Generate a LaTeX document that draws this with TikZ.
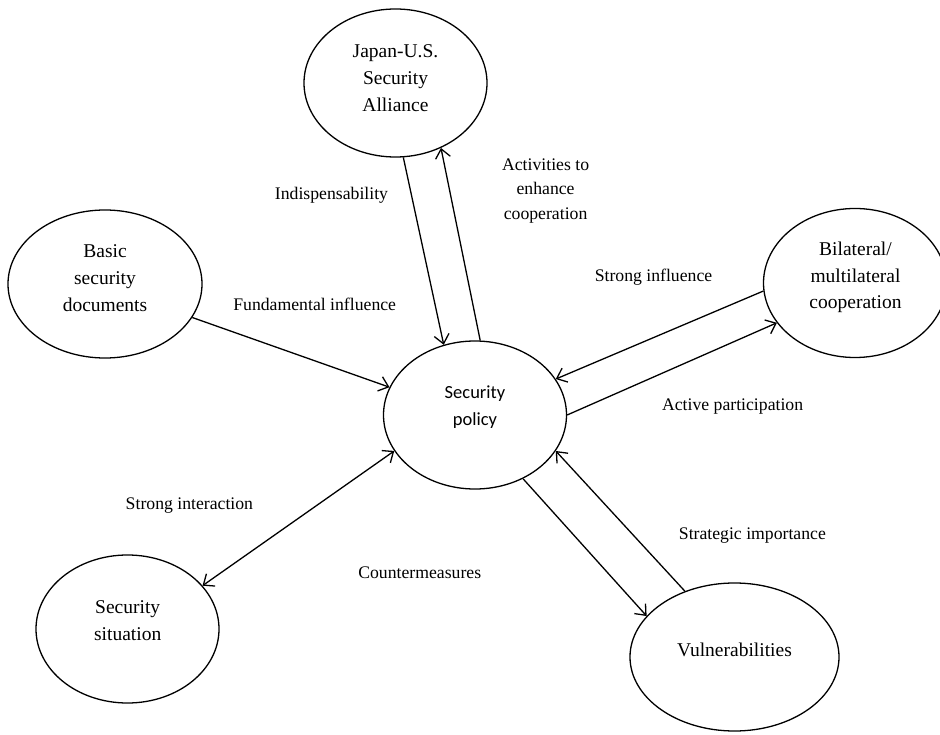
\documentclass[tikz,border=0pt]{standalone}
\usepackage{fontspec}
\setmainfont{Liberation Serif}
\newfontfamily\calfont{Carlito}
\usetikzlibrary{shapes.geometric,arrows.meta}
\begin{document}
\begin{tikzpicture}[x=1pt,y=-1pt,
  bub/.style={draw, ellipse, line width=1.3pt, minimum width=183pt, minimum height=148pt, inner sep=0pt},
  ntext/.style={align=center, inner sep=0pt, font=\fontsize{19.5}{26.7}\selectfont},
  lbl/.style={align=center, inner sep=0pt, font=\fontsize{17.7}{24.4}\selectfont},
  arr/.style={line width=1.3pt, -{Straight Barb[length=9pt,width=15pt,line width=1.3pt]}},
  darr/.style={line width=1.3pt, {Straight Barb[length=9pt,width=15pt,line width=1.3pt]}-{Straight Barb[length=9pt,width=15pt,line width=1.3pt]}}
  ]
\fill[white] (0,0) rectangle (940,735);
\useasboundingbox (0,0) rectangle (940,735);

% ellipses
\node[bub] (japan) at (395.5,83) {};
\node[bub, minimum width=194pt] (basic) at (105,284) {};
\node[bub, minimum height=149pt] (bilat) at (855,283) {};
\node[bub] (policy) at (475,415) {};
\node[bub] (situ) at (127.5,629) {};
\node[bub, minimum width=209pt] (vuln) at (734.5,657) {};

% node texts
\node[ntext] (japanT) at (395.5,78) {Japan-U.S.\\Security\\Alliance};
\node[ntext] (basicT) at (105,278) {Basic\\security\\documents};
\node[ntext] (bilatT) at (855.5,277.5) {Bilateral/\\multilateral\\cooperation};
\node[ntext, font=\calfont\fontsize{18.5}{26.7}\selectfont] (policyT) at (475,407) {Security\\policy};
\node[ntext] (situT) at (127.7,620.5) {Security\\situation};
\node[ntext] (vulnT) at (734.5,650) {Vulnerabilities};

% connectors
\draw[arr] (basic.339.7) -- (policy.162.5);
\draw[arr] (japan.276) -- (policy.114.2);
\draw[arr] (policy.86.6) -- (japan.305.6);
\draw[arr] (bilat.185.3) -- (policy.24.5);
\draw[arr] (policy.0) -- (bilat.207.7);
\draw[darr] (situ.30) -- (policy.204);
\draw[arr] (policy.307.7) -- (vuln.155.5);
\draw[arr] (vuln.127.2) -- (policy.336.4);

% labels
\node[lbl] (l1) at (331.5,195.5) {Indispensability};
\node[lbl] (l2) at (545.6,191) {Activities to\\enhance\\cooperation};
\node[lbl] (l3) at (314.7,304.7) {Fundamental influence};
\node[lbl] (l4) at (653.5,277.5) {Strong influence};
\node[lbl] (l5) at (732.6,407) {Active participation};
\node[lbl] (l6) at (189.4,506) {Strong interaction};
\node[lbl] (l7) at (419.7,573) {Countermeasures};
\node[lbl] (l8) at (752.4,535.4) {Strategic importance};
\end{tikzpicture}
\end{document}
